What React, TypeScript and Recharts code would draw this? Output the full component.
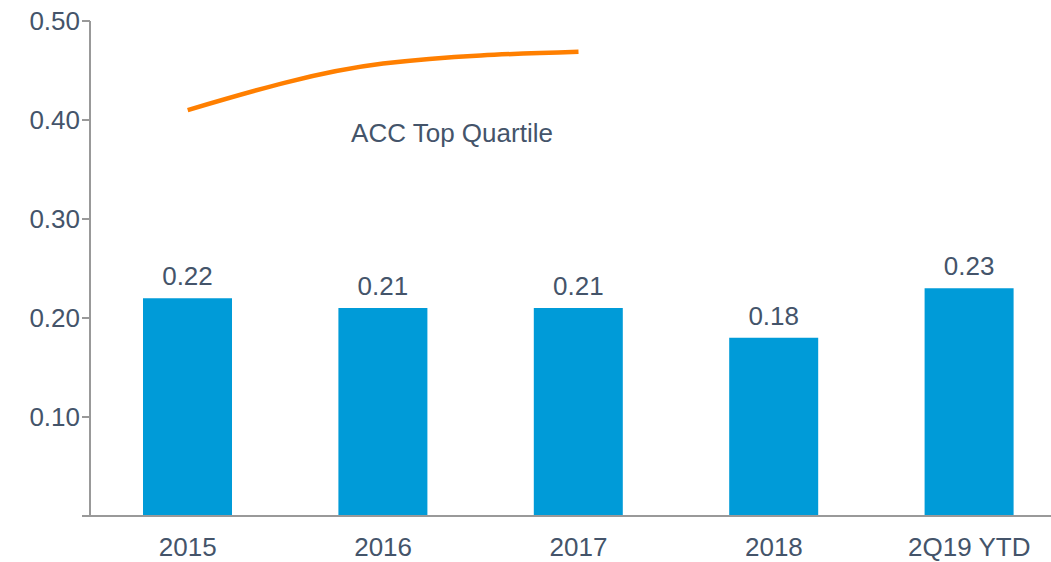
import { ComposedChart, Bar, Line, XAxis, YAxis, LabelList, Customized } from "recharts";

const categories = ["2015", "2016", "2017", "2018", "2Q19 YTD"];
const ratio = [0.22, 0.21, 0.21, 0.18, 0.23];
const topQuartile = [0.41, 0.457, 0.469, null, null];
const yTicks = [0, 0.1, 0.2, 0.3, 0.4, 0.5];

const data = categories.map((c, i) => ({ name: c, ratio: ratio[i], acc: topQuartile[i] }));

const TEXT = "#44546A";
const FONT = "'Liberation Sans', Arial, sans-serif";
const FS = 26;

const YTick = (props: any) => {
  const { x, y, payload } = props;
  if (payload.value === 0) return null;
  return (
    <text x={x} y={y} dy={9} textAnchor="end" fill={TEXT} fontSize={FS} fontFamily={FONT}>
      {payload.value.toFixed(2)}
    </text>
  );
};

const SeriesNote = () => (
  <text x={452} y={142} textAnchor="middle" fill={TEXT} fontSize={FS} fontFamily={FONT}>
    ACC Top Quartile
  </text>
);

export default function App() {
  return (
    <div style={{ position: "fixed", top: 0, left: 0, width: 1051, height: 562, overflow: "hidden", background: "#fff" }}>
      <ComposedChart
        width={1075}
        height={562}
        data={data}
        margin={{ top: 21, right: 8, left: 0, bottom: 0 }}
      >
        <XAxis
          dataKey="name"
          axisLine={{ stroke: "#999", strokeWidth: 2 }}
          tickLine={false}
          tick={{ fill: TEXT, fontSize: FS, fontFamily: FONT }}
          tickMargin={16}
          height={46}
        />
        <YAxis
          domain={[0, 0.5]}
          ticks={yTicks}
          width={90}
          axisLine={{ stroke: "#999", strokeWidth: 2 }}
          tickLine={{ stroke: "#999", strokeWidth: 2 }}
          tickSize={8}
          tick={<YTick />}
        />
        <Bar dataKey="ratio" fill="#009BD8" barSize={89} isAnimationActive={false}>
          <LabelList
            dataKey="ratio"
            position="top"
            offset={13}
            formatter={(v: number) => v.toFixed(2)}
            style={{ fill: TEXT, fontSize: FS, fontFamily: FONT }}
          />
        </Bar>
        <Line
          dataKey="acc"
          type="monotone"
          stroke="#FF7F00"
          strokeWidth={4.5}
          dot={false}
          connectNulls={false}
          isAnimationActive={false}
        />
        <Customized component={SeriesNote} />
      </ComposedChart>
    </div>
  );
}
